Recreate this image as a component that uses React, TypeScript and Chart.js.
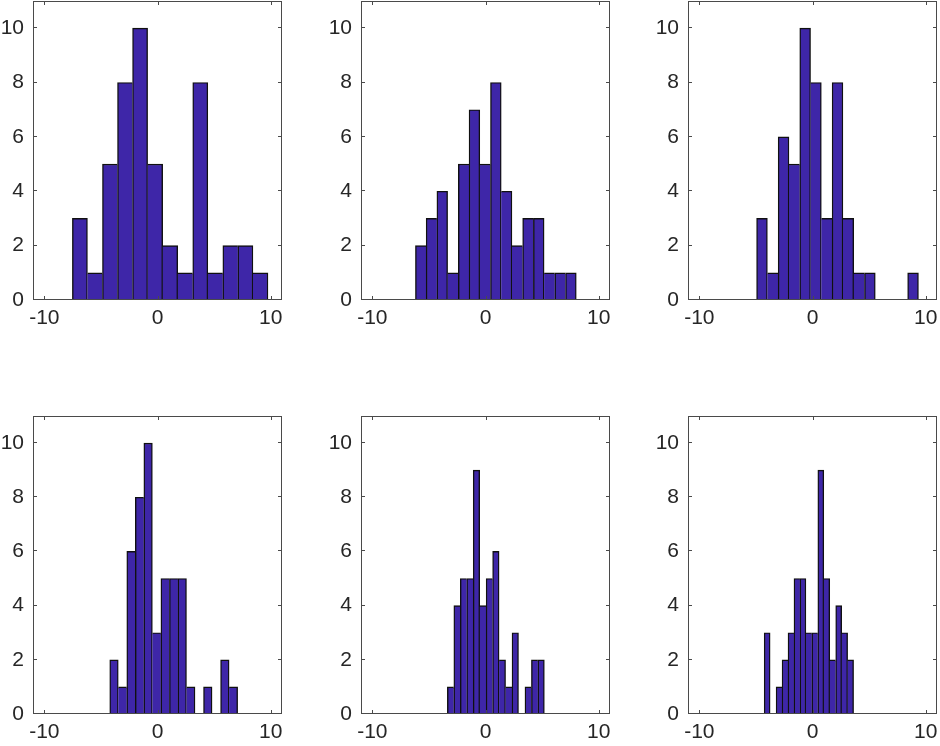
import React, { useEffect, useRef } from 'react';
import { Chart, registerables } from 'chart.js';

Chart.register(...registerables);

// ---- data ----
const xTickValues = [-10, 0, 10];
const yTickValues = [0, 2, 4, 6, 8, 10];
const xLimits = [-11, 11];
const yLimits = [0, 11];

// each histogram: bin counts and the data range covered by the bins [first edge, last edge]
const counts1 = [3, 1, 5, 8, 10, 5, 2, 1, 8, 1, 2, 2, 1];
const range1 = [-7.52, 9.76];
const counts2 = [2, 3, 4, 1, 5, 7, 5, 8, 4, 2, 3, 3, 1, 1, 1];
const range2 = [-6.19, 8.02];
const counts3 = [3, 1, 6, 5, 10, 8, 3, 8, 3, 1, 1, 0, 0, 0, 1];
const range3 = [-4.94, 9.36];
const counts4 = [2, 1, 6, 8, 10, 3, 5, 5, 5, 1, 0, 1, 0, 2, 1];
const range4 = [-4.22, 7.08];
const counts5 = [1, 4, 5, 5, 9, 4, 5, 6, 2, 1, 3, 0, 1, 2, 2];
const range5 = [-3.37, 5.2];
const counts6 = [3, 0, 1, 2, 3, 5, 5, 3, 3, 9, 5, 2, 4, 3, 2];
const range6 = [-4.27, 3.63];

const histograms = [
  { counts: counts1, range: range1 },
  { counts: counts2, range: range2 },
  { counts: counts3, range: range3 },
  { counts: counts4, range: range4 },
  { counts: counts5, range: range5 },
  { counts: counts6, range: range6 },
];

// ---- layout / style ----
const colLefts = [33, 361, 688];
const rowTops = [1, 416];
const rowHeights = [299, 298];
const boxWidth = 249;
const PAD_LEFT = 40;
const PAD_TOP = 12;
const PAD_RIGHT = 3;
const PAD_BOTTOM = 40;

const barFill = '#3e26a8';
const barEdge = '#101010';
const edgeWidth = 1.4;
const frameColor = '#4a4a4a';
const textColor = '#262626';
const fontFamily = '"Liberation Sans", Arial, Helvetica, sans-serif';
const fontSize = 21;

const framePlugin = {
  id: 'matlabFrame',
  afterDraw(chart: any) {
    const { ctx, chartArea: a, scales } = chart;
    const x = scales.x;
    const y = scales.y;
    ctx.save();
    ctx.strokeStyle = frameColor;
    ctx.lineWidth = 1;
    ctx.strokeRect(a.left + 0.5, a.top + 0.5, a.right - a.left - 1, a.bottom - a.top - 1);
    const tl = 4;
    ctx.beginPath();
    for (const v of xTickValues) {
      const px = Math.round(x.getPixelForValue(v)) + 0.5;
      ctx.moveTo(px, a.bottom);
      ctx.lineTo(px, a.bottom - tl);
      ctx.moveTo(px, a.top);
      ctx.lineTo(px, a.top + tl);
    }
    for (const v of yTickValues) {
      const py = Math.round(y.getPixelForValue(v)) - 0.5;
      ctx.moveTo(a.left, py);
      ctx.lineTo(a.left + tl, py);
      ctx.moveTo(a.right, py);
      ctx.lineTo(a.right - tl, py);
    }
    ctx.stroke();
    ctx.restore();
  },
};

const zeroPad = (s: any) => {
  s.paddingTop = 0;
  s.paddingBottom = 0;
  s.paddingLeft = 0;
  s.paddingRight = 0;
};

function Histogram({ counts, range, left, top, height }: any) {
  const ref = useRef<HTMLCanvasElement>(null);
  const cw = boxWidth + PAD_LEFT + PAD_RIGHT;
  const ch = height + PAD_TOP + PAD_BOTTOM;

  useEffect(() => {
    if (!ref.current) return;
    const n = counts.length;
    const w = (range[1] - range[0]) / n;
    const points = counts.map((c: number, i: number) => ({
      x: range[0] + w * (i + 0.5),
      y: c > 0 ? c : null,
    }));
    const cnt = (i: number) => (i >= 0 && i < n ? counts[i] : 0);
    const chart = new Chart(ref.current, {
      type: 'bar',
      data: {
        datasets: [
          {
            data: points,
            backgroundColor: barFill,
            borderColor: barEdge,
            borderSkipped: false,
            borderWidth: (c: any) => {
              const i = c.dataIndex;
              const v = cnt(i);
              return {
                top: edgeWidth,
                bottom: 0,
                left: cnt(i - 1) <= v ? edgeWidth : 0,
                right: cnt(i + 1) < v ? edgeWidth : 0,
              };
            },
            barPercentage: 1,
            categoryPercentage: 1,
          } as any,
        ],
      },
      options: {
        responsive: false,
        animation: false,
        devicePixelRatio: 1,
        layout: {
          autoPadding: false,
          padding: { left: 0, top: PAD_TOP, right: PAD_RIGHT, bottom: 0 },
        },
        plugins: {
          legend: { display: false },
          tooltip: { enabled: false },
        },
        scales: {
          x: {
            type: 'linear',
            offset: false,
            min: xLimits[0],
            max: xLimits[1],
            grid: { display: false, drawTicks: false },
            border: { display: false },
            afterBuildTicks: (s: any) => {
              s.ticks = xTickValues.map((v) => ({ value: v }));
            },
            afterFit: (s: any) => {
              s.height = PAD_BOTTOM;
              zeroPad(s);
            },
            ticks: {
              color: textColor,
              font: { family: fontFamily, size: fontSize },
              padding: 6,
              maxRotation: 0,
              callback: (v: any) => String(v),
            },
          },
          y: {
            type: 'linear',
            min: yLimits[0],
            max: yLimits[1],
            grid: { display: false, drawTicks: false },
            border: { display: false },
            afterBuildTicks: (s: any) => {
              s.ticks = yTickValues.map((v) => ({ value: v }));
            },
            afterFit: (s: any) => {
              s.width = PAD_LEFT;
              zeroPad(s);
            },
            ticks: {
              color: textColor,
              font: { family: fontFamily, size: fontSize },
              padding: 9,
              callback: (v: any) => String(v),
            },
          },
        },
      } as any,
      plugins: [framePlugin],
    });
    return () => chart.destroy();
  }, []);

  return (
    <canvas
      ref={ref}
      width={cw}
      height={ch}
      style={{
        position: 'absolute',
        left: left - PAD_LEFT,
        top: top - PAD_TOP,
        width: cw,
        height: ch,
      }}
    />
  );
}

export default function App() {
  return (
    <div
      style={{
        position: 'absolute',
        left: 0,
        top: 0,
        width: 940,
        height: 746,
        background: '#ffffff',
        overflow: 'hidden',
      }}
    >
      {histograms.map((h, k) => {
        const row = Math.floor(k / 3);
        const col = k % 3;
        return (
          <Histogram
            key={k}
            counts={h.counts}
            range={h.range}
            left={colLefts[col]}
            top={rowTops[row]}
            height={rowHeights[row]}
          />
        );
      })}
    </div>
  );
}
